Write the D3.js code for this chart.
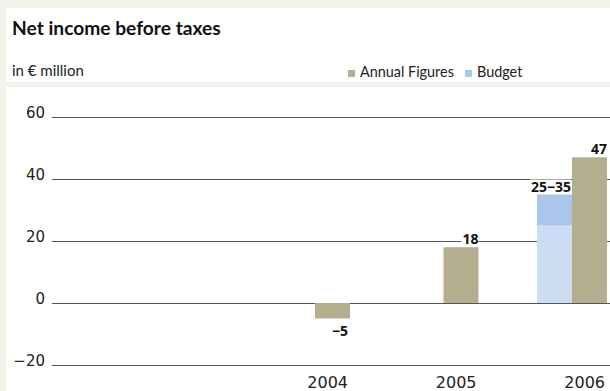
<!DOCTYPE html>
<html lang="en">
    <head>
        <meta charset="utf-8" />
        <title>Net income before taxes</title>
        <script src="https://d3js.org/d3.v7.min.js"></script>
        <style>
            html, body { margin:0; padding:0; overflow:hidden; background-color: #f4f3eb }
            svg { display:block }
        </style>
    </head>
    <body>
        <svg id="svg" width="610" height="391"></svg>
        <script>

            // data
            let years = ["2004", "2005", "2006"];
            let actual = [-5, 18, 47];
            let budgetLow = [null, null, 25];
            let budgetHigh = [null, null, 35];
            let yTicks = [-20, 0, 20, 40, 60];
            let tickLabels = ["\u221220", "0", "20", "40", "60"];
            let actualLabels = ["\u22125", "18", "47"];
            let budgetLabels = [null, null, "25\u221235"];

            let colActual = "#b3ae90";
            let colBudgetLow = "#ccdcf2";
            let colBudgetHigh = "#aac6ea";
            let font = "'Open Sans', sans-serif";
            let font2 = "Lato, sans-serif";

            let svg = d3.select("svg");

            // white panels
            svg.append("rect").attr("x", 6).attr("y", 8).attr("width", 604).attr("height", 74).attr("fill", "#fff");
            svg.append("rect").attr("x", 6).attr("y", 87).attr("width", 604).attr("height", 304).attr("fill", "#fff");

            svg.append("text")
                .attr("x", 12).attr("y", 35)
                .attr("font-family", font2).attr("font-weight", "bold")
                .attr("font-size", 19.2).attr("fill", "#111")
                .text("Net income before taxes");

            svg.append("text")
                .attr("x", 12).attr("y", 76)
                .attr("font-family", font2).attr("font-size", 15).attr("fill", "#222")
                .text("in \u20ac million");

            // legend
            let legend = [
                {name: "Annual Figures", color: colActual, x: 348},
                {name: "Budget", color: colBudgetHigh, x: 465}
            ];
            let lg = svg.append("g").selectAll("g").data(legend).join("g")
                .attr("transform", d => `translate(${d.x},0)`);
            lg.append("rect").attr("x", 0).attr("y", 70).attr("width", 7).attr("height", 7).attr("fill", d => d.color);
            lg.append("text").attr("x", 12).attr("y", 77)
                .attr("font-family", font2).attr("font-size", 14.4).attr("fill", "#222")
                .text(d => d.name);

            // scales
            let y = d3.scaleLinear().domain([-20, 60]).range([365, 117]);
            // right edge of the actual bar for each year
            let x = d3.scalePoint().domain(years).range([350, 607]);
            let bw = 35;

            // grid + tick labels
            let yAxis = d3.axisLeft(y)
                .tickValues(yTicks)
                .tickSize(0)
                .tickFormat((d, i) => tickLabels[i]);
            let ag = svg.append("g").attr("transform", "translate(52,0)").call(yAxis);
            ag.select(".domain").remove();
            ag.selectAll("text")
                .attr("x", -7).attr("dy", 0)
                .attr("font-family", "'DejaVu Sans', sans-serif")
                .attr("font-size", 15).attr("fill", "#222");
            ag.selectAll(".tick line")
                .attr("x2", 610 - 52)
                .attr("stroke", "#555").attr("stroke-width", 1.2);

            let rows = years.map((d, i) => ({
                year: d, val: actual[i], lo: budgetLow[i], hi: budgetHigh[i],
                lab: actualLabels[i], blab: budgetLabels[i]
            }));

            // budget bars
            let bud = rows.filter(d => d.lo != null);
            svg.append("g").selectAll("rect").data(bud).join("rect")
                .attr("x", d => x(d.year) - 2 * bw)
                .attr("width", bw)
                .attr("y", d => y(d.lo))
                .attr("height", d => y(0) - y(d.lo))
                .attr("fill", colBudgetLow);
            svg.append("g").selectAll("rect").data(bud).join("rect")
                .attr("x", d => x(d.year) - 2 * bw)
                .attr("width", bw)
                .attr("y", d => y(d.hi))
                .attr("height", d => y(d.lo) - y(d.hi))
                .attr("fill", colBudgetHigh);

            // actual bars
            svg.append("g").selectAll("rect").data(rows).join("rect")
                .attr("x", d => x(d.year) - bw)
                .attr("width", bw)
                .attr("y", d => y(Math.max(0, d.val)))
                .attr("height", d => Math.abs(y(d.val) - y(0)))
                .attr("fill", colActual);

            // value labels with white backing
            function label(g, tx, ty, txt) {
                let t = g.append("text")
                    .attr("x", tx).attr("y", ty)
                    .attr("text-anchor", "end")
                    .attr("font-family", font).attr("font-weight", "bold")
                    .attr("font-size", 14).attr("fill", "#111")
                    .text(txt);
                let b = t.node().getBBox();
                g.insert("rect", "text")
                    .attr("x", b.x - 1).attr("y", b.y + 3)
                    .attr("width", b.width + 1).attr("height", b.height - 5)
                    .attr("fill", "#fff");
            }
            rows.forEach(d => {
                let g = svg.append("g");
                if (d.val >= 0) label(g, x(d.year), y(d.val) - 3, d.lab);
                else label(g, x(d.year) - 2, y(d.val) + 17, d.lab);
                if (d.blab) {
                    let g2 = svg.append("g");
                    label(g2, x(d.year) - bw - 1, y(d.hi) - 3, d.blab);
                }
            });

            // year labels
            svg.append("g").selectAll("text").data(years).join("text")
                .attr("x", d => x(d) - 2)
                .attr("y", 388)
                .attr("text-anchor", "end")
                .attr("font-family", "'DejaVu Sans', sans-serif")
                .attr("font-size", 16).attr("fill", "#222")
                .text(d => d);

        </script>
    </body>
</html>
